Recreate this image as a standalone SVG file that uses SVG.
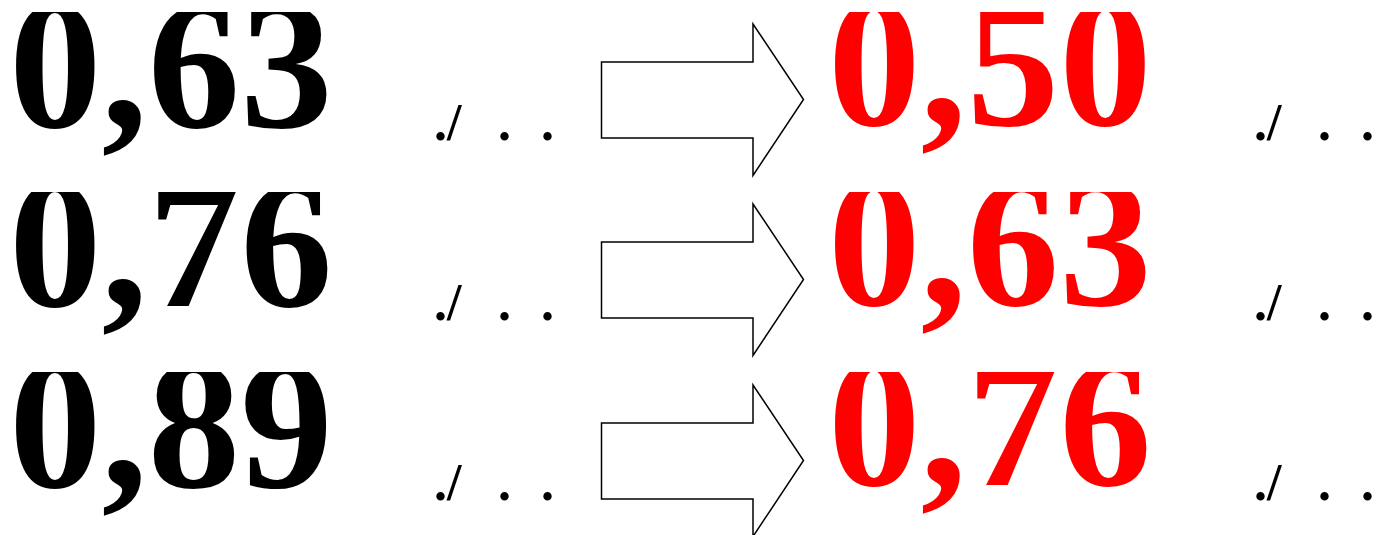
<svg xmlns="http://www.w3.org/2000/svg" width="1388" height="535" viewBox="0 0 1388 535">
<style>
.big{font-family:"Liberation Serif","Times New Roman",serif;font-weight:bold;font-size:185px}
.blk{fill:#000}
.red{fill:#ff0000}
.sm{font-family:"Liberation Serif","Times New Roman",serif;font-weight:bold;font-size:52px;fill:#000}
.arr{fill:#fff;stroke:#000;stroke-width:1.5;stroke-linejoin:miter}
</style>
<defs>
<clipPath id="c1"><rect x="0" y="12" width="1388" height="523"/></clipPath>
<clipPath id="c2"><rect x="0" y="192" width="1388" height="343"/></clipPath>
<clipPath id="c3"><rect x="0" y="372" width="1388" height="163"/></clipPath>
<path id="arrow" d="M601.5,62 H753 V24 L803.5,99.5 L753,175.5 V138 H601.5 Z"/>
</defs>
<g id="left-1"><text class="big blk" x="9" y="127" clip-path="url(#c1)">0,63</text><text class="sm" xml:space="preserve"><tspan x="434" y="140">./ </tspan><tspan x="498" y="140">. </tspan><tspan x="541" y="140">.</tspan></text></g>
<g id="left-2"><text class="big blk" x="9" y="306" clip-path="url(#c2)">0,76</text><text class="sm" xml:space="preserve"><tspan x="434" y="320">./ </tspan><tspan x="498" y="320">. </tspan><tspan x="541" y="320">.</tspan></text></g>
<g id="left-3"><text class="big blk" x="9" y="487" clip-path="url(#c3)">0,89</text><text class="sm" xml:space="preserve"><tspan x="434" y="500">./ </tspan><tspan x="498" y="500">. </tspan><tspan x="541" y="500">.</tspan></text></g>
<g id="connectors">
<use href="#arrow" class="arr"/>
<use href="#arrow" class="arr" transform="translate(0,180)"/>
<use href="#arrow" class="arr" transform="translate(0,361)"/>
</g>
<g id="right-1"><text class="big red" x="828" y="125" clip-path="url(#c1)">0,50</text><text class="sm" xml:space="preserve"><tspan x="1254" y="140">./ </tspan><tspan x="1318" y="140">. </tspan><tspan x="1361" y="140">.</tspan></text></g>
<g id="right-2"><text class="big red" x="828" y="305" clip-path="url(#c2)">0,63</text><text class="sm" xml:space="preserve"><tspan x="1254" y="320">./ </tspan><tspan x="1318" y="320">. </tspan><tspan x="1361" y="320">.</tspan></text></g>
<g id="right-3"><text class="big red" x="828" y="485" clip-path="url(#c3)">0,76</text><text class="sm" xml:space="preserve"><tspan x="1254" y="500">./ </tspan><tspan x="1318" y="500">. </tspan><tspan x="1361" y="500">.</tspan></text></g>
</svg>
